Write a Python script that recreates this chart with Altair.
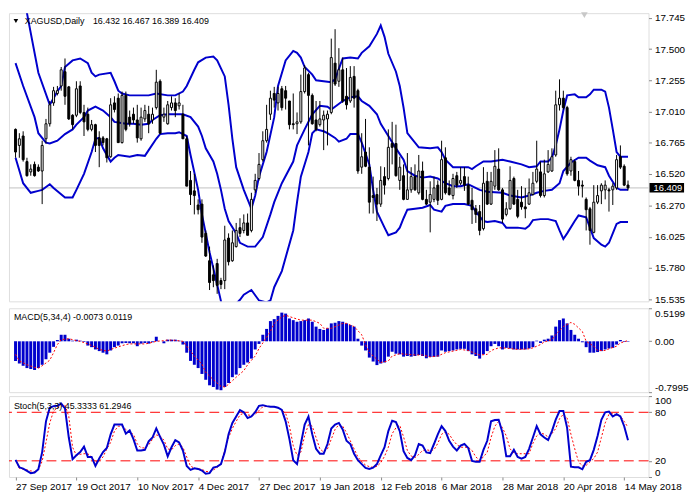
import altair as alt
import pandas as pd

# ------------------------------------------------------------------ data
date_ticks = [0, 16, 32, 48, 64, 80, 96, 112, 128, 144, 160]
date_labels = ["27 Sep 2017", "19 Oct 2017", "10 Nov 2017", "4 Dec 2017", "27 Dec 2017",
               "19 Jan 2018", "12 Feb 2018", "6 Mar 2018", "28 Mar 2018", "20 Apr 2018",
               "14 May 2018"]

opens = [
    16.869, 16.743, 16.817, 16.616, 16.535, 16.594, 16.572, 16.542, 16.795, 16.913,
    17.077, 17.151, 17.210, 17.322, 17.203, 16.980, 16.980, 17.210, 17.002, 16.988,
    16.869, 16.906, 16.802, 16.802, 16.795, 16.654, 17.077, 17.114, 16.765, 17.136,
    16.965, 16.988, 16.943, 16.795, 16.951, 16.988, 16.943, 17.040, 17.247, 16.965,
    16.913, 17.040, 17.077, 17.054, 16.988, 16.795, 16.468, 16.386, 16.275, 16.282,
    16.052, 15.837, 15.726, 15.815, 15.681, 15.681, 16.015, 15.837, 15.948, 16.097,
    16.075, 16.134, 16.075, 16.394, 16.483, 16.631, 16.780, 16.988, 17.151, 17.077,
    17.188, 17.173, 17.092, 16.913, 16.913, 16.928, 17.166, 17.299, 17.136, 16.943,
    16.906, 16.943, 16.951, 17.002, 17.389, 17.247, 17.337, 17.129, 17.092, 17.285,
    17.173, 16.572, 16.691, 16.572, 16.349, 16.357, 16.282, 16.498, 16.483, 16.758,
    16.758, 16.468, 16.505, 16.319, 16.394, 16.498, 16.371, 16.542, 16.319, 16.297,
    16.319, 16.431, 16.319, 16.646, 16.409, 16.349, 16.505, 16.446, 16.498, 16.431,
    16.312, 16.245, 16.223, 16.089, 16.461, 16.282, 16.423, 16.557, 16.394, 16.201,
    16.245, 16.483, 16.319, 16.297, 16.260, 16.282, 16.357, 16.461, 16.535, 16.349,
    16.535, 16.542, 16.668, 17.062, 17.114, 17.040, 16.542, 16.616, 16.468, 16.431,
    16.319, 16.245, 16.060, 16.297, 16.386, 16.394, 16.394, 16.394, 16.409, 16.654,
    16.579, 16.432]
highs = [
    16.876, 16.839, 16.854, 16.646, 16.594, 16.616, 16.594, 16.780, 16.951, 17.092,
    17.203, 17.210, 17.359, 17.426, 17.210, 16.988, 17.247, 17.247, 17.062, 17.040,
    16.943, 16.913, 16.854, 16.817, 16.802, 17.114, 17.129, 17.151, 17.166, 17.166,
    17.017, 17.040, 17.062, 17.040, 17.062, 17.054, 17.040, 17.337, 17.262, 17.040,
    17.092, 17.129, 17.114, 17.151, 17.062, 16.817, 16.542, 16.520, 16.319, 16.319,
    16.075, 15.948, 15.800, 15.852, 15.703, 16.112, 16.052, 16.075, 16.134, 16.171,
    16.201, 16.208, 16.371, 16.520, 16.683, 16.854, 17.062, 17.173, 17.203, 17.203,
    17.210, 17.210, 17.092, 17.151, 17.002, 17.299, 17.374, 17.314, 17.151, 17.092,
    17.092, 17.017, 17.017, 17.582, 17.656, 17.507, 17.433, 17.351, 17.366, 17.366,
    17.188, 16.839, 16.951, 16.728, 16.498, 16.409, 16.579, 16.572, 16.869, 16.928,
    16.906, 16.654, 16.594, 16.683, 16.572, 16.594, 16.668, 16.616, 16.394, 16.461,
    16.498, 16.468, 16.780, 16.728, 16.468, 16.520, 16.535, 16.572, 16.572, 16.498,
    16.409, 16.275, 16.275, 16.572, 16.535, 16.535, 16.706, 16.720, 16.409, 16.297,
    16.579, 16.498, 16.394, 16.423, 16.409, 16.483, 16.535, 16.780, 16.616, 16.631,
    16.706, 16.720, 17.173, 17.262, 17.173, 17.054, 16.654, 16.631, 16.542, 16.468,
    16.334, 16.260, 16.431, 16.431, 16.446, 16.468, 16.409, 16.446, 16.668, 16.743,
    16.594, 16.467]
lows = [
    16.646, 16.646, 16.616, 16.498, 16.505, 16.498, 16.535, 16.282, 16.758, 16.891,
    17.054, 17.136, 17.173, 17.062, 16.943, 16.869, 16.965, 16.988, 16.817, 16.854,
    16.854, 16.691, 16.572, 16.743, 16.609, 16.646, 17.002, 16.765, 16.758, 16.854,
    16.891, 16.913, 16.765, 16.780, 16.928, 16.839, 16.913, 17.025, 16.832, 16.928,
    16.906, 17.017, 16.965, 17.025, 16.795, 16.423, 16.275, 16.201, 16.201, 15.978,
    15.867, 15.607, 15.629, 15.577, 15.614, 15.614, 15.800, 15.829, 15.941, 16.023,
    16.052, 16.037, 16.060, 16.371, 16.468, 16.616, 16.765, 16.943, 17.040, 17.017,
    17.017, 17.025, 16.869, 16.869, 16.832, 16.913, 17.151, 16.743, 16.906, 16.854,
    16.891, 16.706, 16.743, 16.988, 17.210, 17.203, 17.077, 17.025, 17.077, 17.040,
    16.520, 16.520, 16.572, 16.208, 16.208, 16.149, 16.260, 16.357, 16.468, 16.594,
    16.498, 16.394, 16.312, 16.319, 16.371, 16.386, 16.357, 16.312, 16.275, 16.060,
    16.297, 16.275, 16.312, 16.357, 16.349, 16.319, 16.409, 16.431, 16.386, 16.275,
    16.126, 16.134, 16.037, 16.075, 16.275, 16.275, 16.394, 16.386, 16.134, 16.186,
    16.238, 16.275, 16.171, 16.238, 16.171, 16.275, 16.349, 16.446, 16.334, 16.334,
    16.527, 16.535, 16.654, 17.017, 17.025, 16.505, 16.505, 16.461, 16.349, 16.334,
    16.075, 15.963, 16.052, 16.282, 16.282, 16.319, 16.223, 16.275, 16.394, 16.557,
    16.423, 16.389]
closes = [
    16.691, 16.795, 16.631, 16.505, 16.557, 16.505, 16.542, 16.743, 16.913, 17.062,
    17.173, 17.173, 17.337, 17.129, 16.951, 16.906, 17.188, 17.002, 16.928, 16.869,
    16.906, 16.743, 16.743, 16.765, 16.646, 17.062, 17.025, 16.765, 17.136, 16.869,
    16.913, 16.943, 16.802, 16.965, 17.017, 16.913, 16.988, 17.240, 16.839, 16.988,
    17.062, 17.077, 17.017, 17.077, 16.795, 16.423, 16.357, 16.349, 16.238, 16.023,
    15.874, 15.666, 15.681, 15.644, 15.651, 16.000, 15.829, 15.978, 16.075, 16.052,
    16.134, 16.037, 16.319, 16.468, 16.594, 16.780, 16.869, 17.114, 17.099, 17.151,
    17.040, 17.114, 16.906, 16.906, 16.928, 17.166, 17.351, 17.136, 16.913, 16.869,
    16.951, 16.980, 16.988, 17.433, 17.225, 17.337, 17.092, 17.062, 17.277, 17.114,
    16.542, 16.654, 16.579, 16.297, 16.334, 16.282, 16.468, 16.431, 16.728, 16.728,
    16.505, 16.572, 16.319, 16.394, 16.498, 16.394, 16.542, 16.319, 16.282, 16.357,
    16.409, 16.312, 16.631, 16.371, 16.357, 16.483, 16.431, 16.468, 16.431, 16.282,
    16.238, 16.201, 16.075, 16.446, 16.282, 16.461, 16.579, 16.394, 16.164, 16.245,
    16.468, 16.282, 16.186, 16.260, 16.245, 16.371, 16.446, 16.557, 16.349, 16.520,
    16.594, 16.654, 17.062, 17.114, 17.040, 16.520, 16.631, 16.468, 16.423, 16.423,
    16.238, 16.075, 16.297, 16.349, 16.431, 16.431, 16.386, 16.423, 16.631, 16.572,
    16.431, 16.409]

bb_upper = [
    (0, 18.205), (3, 17.782), (6, 17.314), (9, 17.062), (11, 17.166), (12, 17.210), (13, 17.359),
    (15, 17.411), (17, 17.426), (19, 17.389), (20, 17.314), (21, 17.285), (22, 17.299), (25, 17.314),
    (26, 17.247), (27, 17.173), (28, 17.151), (30, 17.136), (35, 17.136), (37, 17.151), (40, 17.136),
    (42, 17.136), (44, 17.166), (45, 17.210), (47, 17.337), (48, 17.396), (50, 17.433), (52, 17.441),
    (53, 17.411), (55, 17.285), (56, 17.062), (57, 16.795), (58, 16.572), (60, 16.394), (62, 16.245),
    (63, 16.349), (64, 16.498), (66, 16.691), (68, 16.965), (69, 17.210), (71, 17.411), (73, 17.485),
    (74, 17.470), (75, 17.433), (76, 17.359), (78, 17.299), (79, 17.255), (81, 17.247), (83, 17.240),
    (84, 17.262), (86, 17.426), (88, 17.433), (90, 17.426), (91, 17.470), (93, 17.522), (95, 17.619),
    (96, 17.685), (97, 17.596), (98, 17.463), (100, 17.322), (101, 17.210), (102, 17.040), (103, 16.839),
    (104, 16.802), (106, 16.728), (109, 16.720), (111, 16.728), (112, 16.691), (113, 16.631), (115, 16.572),
    (119, 16.572), (120, 16.557), (121, 16.579), (123, 16.617), (125, 16.617), (128, 16.631), (130, 16.617),
    (133, 16.594), (135, 16.572), (137, 16.579), (138, 16.617), (140, 16.617), (141, 16.646), (142, 16.743),
    (143, 16.869), (144, 17.017), (145, 17.136), (147, 17.144), (148, 17.121), (150, 17.121), (151, 17.144),
    (152, 17.181), (154, 17.181), (155, 17.166), (156, 17.040), (157, 16.869), (158, 16.691), (159, 16.654),
    (161, 16.654)]
bb_middle = [
    (0, 17.389), (2, 17.210), (5, 16.965), (6, 16.839), (8, 16.765), (9, 16.758), (11, 16.780),
    (13, 16.832), (15, 16.869), (16, 16.906), (18, 16.965), (19, 17.017), (21, 17.047), (23, 17.017),
    (25, 16.965), (26, 16.928), (29, 16.913), (31, 16.913), (33, 16.906), (35, 16.913), (36, 16.943),
    (38, 16.980), (40, 16.988), (42, 16.988), (44, 16.988), (46, 16.965), (48, 16.891), (49, 16.817),
    (50, 16.720), (52, 16.617), (53, 16.520), (54, 16.394), (55, 16.245), (56, 16.149), (58, 16.052),
    (59, 15.978), (61, 15.948), (63, 15.948), (65, 16.023), (67, 16.201), (68, 16.297), (70, 16.446),
    (73, 16.616), (74, 16.743), (76, 16.869), (78, 16.988), (80, 17.054), (82, 17.047), (83, 17.025),
    (86, 17.092), (88, 17.121), (90, 17.129), (91, 17.092), (93, 17.054), (95, 16.988), (96, 16.913),
    (98, 16.817), (100, 16.720), (102, 16.631), (103, 16.542), (105, 16.505), (107, 16.490), (109, 16.498),
    (111, 16.483), (113, 16.446), (115, 16.423), (117, 16.423), (119, 16.438), (120, 16.423), (122, 16.394),
    (124, 16.379), (128, 16.371), (130, 16.349), (133, 16.334), (135, 16.349), (137, 16.371), (139, 16.386),
    (141, 16.394), (143, 16.446), (144, 16.542), (146, 16.609), (148, 16.646), (150, 16.646), (151, 16.624),
    (153, 16.587), (155, 16.572), (156, 16.505), (158, 16.410), (159, 16.394), (161, 16.394)]
bb_lower = [
    (0, 16.646), (2, 16.446), (4, 16.371), (6, 16.386), (7, 16.394), (9, 16.438), (10, 16.408),
    (13, 16.334), (15, 16.334), (16, 16.394), (18, 16.520), (20, 16.691), (21, 16.795), (22, 16.802),
    (23, 16.720), (25, 16.616), (26, 16.646), (27, 16.668), (30, 16.654), (32, 16.668), (34, 16.661),
    (35, 16.706), (37, 16.795), (38, 16.832), (40, 16.839), (42, 16.839), (43, 16.847), (45, 16.817),
    (46, 16.668), (48, 16.394), (49, 16.201), (51, 15.904), (53, 15.651), (54, 15.520), (55, 15.350),
    (56, 15.240), (57, 15.330), (58, 15.500), (59, 15.530), (60, 15.570), (62, 15.607), (64, 15.525),
    (66, 15.510), (67, 15.525), (68, 15.629), (70, 15.756), (73, 16.075), (74, 16.297), (75, 16.498),
    (77, 16.691), (78, 16.839), (79, 16.869), (81, 16.854), (82, 16.839), (84, 16.802), (85, 16.772),
    (87, 16.795), (88, 16.832), (90, 16.832), (91, 16.765), (93, 16.594), (94, 16.394), (95, 16.223),
    (97, 16.097), (98, 16.037), (100, 16.060), (101, 16.097), (102, 16.171), (103, 16.238), (105, 16.245),
    (107, 16.253), (109, 16.275), (110, 16.238), (112, 16.223), (113, 16.268), (115, 16.282), (118, 16.282),
    (120, 16.268), (121, 16.223), (123, 16.149), (124, 16.141), (126, 16.149), (128, 16.134), (129, 16.097),
    (132, 16.097), (134, 16.089), (135, 16.112), (136, 16.156), (138, 16.164), (140, 16.164), (142, 16.149),
    (143, 16.075), (144, 16.008), (145, 16.052), (147, 16.149), (148, 16.193), (150, 16.178), (151, 16.097),
    (152, 16.015), (154, 15.963), (155, 15.948), (156, 15.978), (157, 16.052), (158, 16.126), (159, 16.141),
    (161, 16.141)]

macd_hist = [
    -0.308, -0.349, -0.385, -0.421, -0.436, -0.451, -0.421, -0.369, -0.282, -0.179,
    -0.087, 0.021, 0.103, 0.103, 0.041, 0.010, 0.026, 0.010, -0.010, -0.067,
    -0.092, -0.128, -0.154, -0.179, -0.205, -0.144, -0.092, -0.067, -0.031, -0.026,
    -0.031, -0.031, -0.077, -0.036, -0.026, -0.036, -0.015, 0.072, 0.000, -0.031,
    0.026, 0.026, 0.026, 0.010, -0.051, -0.179, -0.308, -0.369, -0.421, -0.513,
    -0.605, -0.692, -0.718, -0.759, -0.769, -0.718, -0.656, -0.564, -0.523, -0.421,
    -0.369, -0.333, -0.272, -0.128, -0.041, 0.103, 0.195, 0.318, 0.349, 0.400,
    0.451, 0.436, 0.359, 0.333, 0.308, 0.318, 0.333, 0.359, 0.308, 0.231,
    0.195, 0.179, 0.205, 0.282, 0.292, 0.318, 0.308, 0.282, 0.256, 0.231,
    0.041, -0.067, -0.144, -0.256, -0.318, -0.374, -0.349, -0.333, -0.241, -0.164,
    -0.195, -0.205, -0.241, -0.231, -0.241, -0.231, -0.215, -0.231, -0.267, -0.246,
    -0.246, -0.241, -0.144, -0.164, -0.154, -0.144, -0.128, -0.118, -0.118, -0.154,
    -0.205, -0.231, -0.272, -0.205, -0.154, -0.077, -0.041, -0.077, -0.128, -0.103,
    -0.113, -0.128, -0.128, -0.128, -0.128, -0.113, -0.092, 0.010, -0.026, 0.026,
    0.041, 0.092, 0.231, 0.333, 0.359, 0.282, 0.179, 0.103, 0.041, -0.015,
    -0.092, -0.179, -0.179, -0.169, -0.154, -0.128, -0.113, -0.103, -0.051, 0.021,
    -0.010, -0.0073]
macd_signal = [
    (0, -0.205), (1, -0.308), (3, -0.369), (5, -0.410), (6, -0.421), (7, -0.385), (9, -0.297),
    (10, -0.179), (11, -0.051), (12, 0.026), (14, 0.041), (15, 0.026), (16, 0.010), (17, 0.000),
    (19, -0.041), (21, -0.092), (22, -0.128), (24, -0.154), (25, -0.128), (27, -0.087), (29, -0.051),
    (30, -0.041), (32, -0.041), (34, -0.041), (35, -0.031), (37, 0.000), (39, 0.010), (40, 0.021),
    (42, 0.015), (44, 0.000), (45, -0.077), (47, -0.231), (49, -0.359), (50, -0.487), (52, -0.605),
    (54, -0.708), (55, -0.718), (56, -0.677), (58, -0.564), (60, -0.462), (61, -0.369), (63, -0.231),
    (64, -0.113), (65, -0.026), (67, 0.154), (68, 0.282), (70, 0.385), (71, 0.410), (73, 0.369),
    (75, 0.333), (76, 0.333), (78, 0.333), (80, 0.282), (81, 0.205), (83, 0.205), (85, 0.256),
    (86, 0.282), (87, 0.282), (89, 0.231), (91, 0.103), (92, -0.051), (93, -0.179), (95, -0.282),
    (96, -0.333), (98, -0.308), (99, -0.231), (101, -0.195), (103, -0.205), (105, -0.215), (107, -0.215),
    (109, -0.246), (111, -0.231), (113, -0.179), (115, -0.154), (117, -0.128), (119, -0.144), (121, -0.195),
    (122, -0.215), (124, -0.205), (125, -0.144), (127, -0.103), (128, -0.103), (130, -0.113), (132, -0.128),
    (135, -0.118), (136, -0.103), (138, -0.051), (139, -0.010), (141, 0.026), (142, 0.103), (144, 0.231),
    (146, 0.297), (147, 0.267), (149, 0.154), (150, 0.000), (152, -0.077), (153, -0.144), (155, -0.144),
    (156, -0.118), (158, -0.077), (159, -0.026), (161, 0.0119)]

stoch_main = [
    21.2, 12, 10.4, 7.6, 4.8, 5.6, 9.6, 30.8, 68.8, 85.6,
    87.6, 88, 90.8, 84.8, 48.8, 22, 26.8, 30.8, 37.6, 24.8,
    24.8, 13.6, 22.8, 30.8, 36, 52.8, 64.8, 64.8, 64.8, 53.6,
    57.6, 46.8, 32.8, 32.8, 33.6, 44, 48.8, 60, 49.6, 40,
    25.6, 36.8, 45.6, 42.8, 32.8, 13.6, 8.8, 10.8, 10, 8,
    4, 4.8, 11.6, 12.8, 16, 30.8, 52.8, 66.8, 74.8, 82.8,
    80, 72.8, 74.8, 80, 88, 88.8, 87.6, 86.8, 86.8, 85.6,
    82.8, 68.8, 46.8, 20.8, 16, 40.8, 64.8, 74.8, 52.8, 34.8,
    28.8, 28.8, 40.8, 60, 64.8, 66.8, 58.8, 44.8, 40.8, 28.8,
    20.8, 16, 11.2, 10, 11.6, 16, 26.8, 36.8, 56.8, 69.6,
    68, 56.8, 32, 23.6, 20.8, 26.8, 40.8, 38.8, 30.4, 29.6,
    40.8, 52.8, 62.8, 56.8, 44.8, 37.6, 32.8, 38.8, 40.8, 36,
    20, 18.8, 18.8, 33.6, 44.8, 68.8, 70.4, 70.8, 54.8, 25.6,
    25.6, 33.6, 24.8, 22.8, 24.8, 34.8, 48.8, 62.8, 52.8, 48.8,
    45.6, 56.8, 70.8, 81.6, 81.6, 60.8, 12.8, 12, 12, 9.6,
    18.8, 20.8, 33.6, 50.8, 70.8, 80, 80.8, 74.8, 77.6, 74.8,
    62.8, 45.3333]
stoch_signal = [
    20.8, 10.8, 9.6, 8.8, 7.6, 6.8, 8.8, 19.6, 42.8, 66.8,
    81.6, 85.6, 87.6, 88.8, 74.8, 36.8, 26.8, 28, 28.8, 28.8,
    24.8, 18.8, 19.6, 24.8, 34.8, 42.8, 56.8, 62.8, 62.8, 58.8,
    54.8, 52.8, 40.8, 36, 36, 39.6, 46.8, 52, 50.8, 45.6,
    34.8, 33.6, 38.8, 40.8, 36.8, 24.8, 13.6, 10.8, 10, 9.6,
    6.8, 6.8, 8.8, 11.6, 16.8, 32.8, 48.8, 60, 68.8, 76.8,
    78.8, 76.8, 76, 77.6, 82, 86.8, 87.2, 87.2, 86.8, 85.6,
    82.8, 78.8, 62.8, 38.8, 26.8, 30.8, 50.8, 64.8, 62.8, 48.8,
    34.8, 30.8, 34.8, 46.8, 58.8, 64.8, 62.8, 54.8, 44.8, 34.8,
    24.8, 18.8, 14.8, 12.8, 12, 13.2, 17.6, 25.6, 36.8, 53.6,
    60.8, 64, 49.6, 32.8, 26, 24, 28, 32.8, 33.6, 32.8,
    33.6, 41.6, 52.8, 56, 52.8, 45.6, 40, 36.8, 36.8, 36.8,
    32.8, 24.8, 20.8, 24.8, 30.8, 48.8, 62.8, 68.8, 60.8, 50.8,
    34.8, 29.6, 28.8, 28.8, 28.8, 28.8, 41.6, 50.8, 54.8, 52.8,
    49.6, 53.6, 60, 72, 77.6, 72.8, 52.8, 34.8, 18.8, 13.6,
    14.4, 18.8, 22.8, 30.8, 48.8, 66.8, 77.6, 78.4, 76.8, 75.2,
    68.8, 61.2946]

price_ticks = [17.745, 17.500, 17.255, 17.010, 16.765, 16.520, 16.270, 16.025, 15.780, 15.535]
price_domain = [15.518, 17.782]
last_price = 16.409
macd_domain = [-0.7995, 0.5199]
stoch_levels = [80, 20]

header_main = "XAGUSD,Daily"
header_prices = "16.432 16.467 16.389 16.409"
header_macd = "MACD(5,34,4) -0.0073 0.0119"
header_stoch = "Stoch(5,3,3) 45.3333 61.2946"

n = len(opens)
assert len(highs) == n and len(lows) == n and len(closes) == n
assert len(macd_hist) == n and len(stoch_main) == n and len(stoch_signal) == n

# ------------------------------------------------------------------ frames
idx = list(range(n))
candles = pd.DataFrame({"i": idx, "open": opens, "high": highs, "low": lows, "close": closes})
bands = pd.DataFrame(
    [{"i": i, "v": v, "band": name}
     for name, pts in (("upper", bb_upper), ("middle", bb_middle), ("lower", bb_lower))
     for i, v in pts])
macd_df = pd.DataFrame({"i": idx, "h": macd_hist})
macd_sig_df = pd.DataFrame(macd_signal, columns=["i", "s"])
stoch_df = pd.DataFrame({"i": idx, "k": stoch_main, "d": stoch_signal})
levels_df = pd.DataFrame({"lvl": stoch_levels})
one = pd.DataFrame({"a": [0]})

# ------------------------------------------------------------------ styling
W = 648
H_PRICE, H_MACD, H_STOCH = 292, 85, 82
BLUE = "#0000CD"
FONT = "Liberation Sans"
xs = alt.Scale(domain=[-0.425, 165.1], nice=False, zero=False)
X = alt.X("i:Q", scale=xs, axis=None, title=None)

ys_price = alt.Scale(domain=price_domain, nice=False, zero=False)
ax_price = alt.Axis(orient="right", values=price_ticks, format=".3f", tickSize=3,
                    labelPadding=3, title=None, grid=False, domain=False, labelFlush=False)

# ------------------------------------------------------------------ price panel
wicks = alt.Chart(candles).mark_rule(color="black", strokeWidth=1).encode(
    x=X, y=alt.Y("low:Q", scale=ys_price, axis=ax_price, title=None), y2="high:Q")
bodies = alt.Chart(candles).mark_bar(width=2, stroke="black", strokeWidth=1).encode(
    x=X, y=alt.Y("open:Q", scale=ys_price, axis=ax_price, title=None), y2="close:Q",
    fill=alt.condition("datum.close >= datum.open", alt.value("white"), alt.value("black")))
bb_lines = alt.Chart(bands).mark_line(color=BLUE, strokeWidth=2, clip=True).encode(
    x=X, y=alt.Y("v:Q", scale=ys_price, axis=ax_price, title=None), detail="band:N")
cur_line = alt.Chart(one).mark_rule(color="#C0C0C0", strokeWidth=1).encode(
    y=alt.Y(datum=last_price, scale=ys_price, axis=ax_price, title=None))
cur_box = alt.Chart(one).mark_rect(color="black", clip=False).encode(
    x=alt.value(W + 1), x2=alt.value(W + 36),
    y=alt.Y(datum=last_price + 0.038, scale=ys_price, axis=ax_price, title=None),
    y2=alt.Y2(datum=last_price - 0.036))
cur_text = alt.Chart(one).mark_text(color="white", align="left", baseline="middle",
                                    font=FONT, fontSize=9.5, clip=False).encode(
    x=alt.value(W + 5), y=alt.Y(datum=last_price, scale=ys_price, axis=ax_price, title=None),
    text=alt.value(f"{last_price:.3f}"))
hdr_tri = alt.Chart(one).mark_point(shape="triangle-down", filled=True, size=22,
                                    color="black", opacity=1).encode(
    x=alt.value(7), y=alt.value(8))
hdr1 = alt.Chart(one).mark_text(align="left", baseline="middle", font=FONT, fontSize=9,
                                color="black").encode(
    x=alt.value(16), y=alt.value(8), text=alt.value(header_main))
hdr2 = alt.Chart(one).mark_text(align="left", baseline="middle", font=FONT, fontSize=9,
                                color="black").encode(
    x=alt.value(85), y=alt.value(8), text=alt.value(header_prices))
shift_mark = alt.Chart(one).mark_point(shape="triangle-down", filled=True, size=45,
                                       color="#C8C8C8", opacity=1).encode(
    x=alt.value(583), y=alt.value(2))

price = alt.layer(cur_line, bb_lines, wicks, bodies, cur_box, cur_text,
                  hdr_tri, hdr1, hdr2, shift_mark).properties(width=W, height=H_PRICE)

# ------------------------------------------------------------------ MACD panel
ys_macd = alt.Scale(domain=macd_domain, nice=False, zero=False)
ax_macd = alt.Axis(orient="right", values=[0.5199, 0, -0.7995], tickSize=3, labelPadding=3,
                   title=None, grid=False, domain=False, labelFlush=True,
                   labelExpr="datum.value > 0.5 ? '0.5199' : (datum.value < -0.7 ? '-0.7995' : '0.00')")
macd_bars = alt.Chart(macd_df).mark_bar(width=3, color=BLUE).encode(
    x=X, y=alt.Y("h:Q", scale=ys_macd, axis=ax_macd, title=None), y2=alt.Y2(datum=0))
macd_line = alt.Chart(macd_sig_df).mark_line(color="#FF0000", strokeWidth=1,
                                             strokeDash=[2, 2]).encode(
    x=X, y=alt.Y("s:Q", scale=ys_macd, axis=ax_macd, title=None))
macd_hdr = alt.Chart(one).mark_text(align="left", baseline="middle", font=FONT, fontSize=9,
                                    color="black").encode(
    x=alt.value(5), y=alt.value(9), text=alt.value(header_macd))
macd = alt.layer(macd_bars, macd_line, macd_hdr).properties(width=W, height=H_MACD)

# ------------------------------------------------------------------ Stochastic panel
ys_st = alt.Scale(domain=[0, 100], nice=False, zero=False)
ax_st = alt.Axis(orient="right", values=[100, 80, 20, 0], tickSize=3, labelPadding=3,
                 title=None, grid=False, domain=False, labelFlush=True)
label_arr = "[" + ",".join("'%s'" % s for s in date_labels) + "]"
tick_arr = "[" + ",".join(str(t) for t in date_ticks) + "]"
ax_x = alt.Axis(values=date_ticks, labelExpr=f"{label_arr}[indexof({tick_arr}, datum.value)]",
                labelAlign="left", labelPadding=2, tickSize=3, domain=False, grid=False,
                title=None, labelFlush=False, labelOverlap=False, labelBound=False)
XS = alt.X("i:Q", scale=xs, axis=ax_x, title=None)
st_levels = alt.Chart(levels_df).mark_rule(color="#FF0000", strokeWidth=1,
                                           strokeDash=[10, 5]).encode(
    y=alt.Y("lvl:Q", scale=ys_st, axis=ax_st, title=None))
st_sig = alt.Chart(stoch_df).mark_line(color="#FF0000", strokeWidth=1, strokeDash=[2, 2]).encode(
    x=XS, y=alt.Y("d:Q", scale=ys_st, axis=ax_st, title=None))
st_main = alt.Chart(stoch_df).mark_line(color=BLUE, strokeWidth=2).encode(
    x=XS, y=alt.Y("k:Q", scale=ys_st, axis=ax_st, title=None))
st_hdr = alt.Chart(one).mark_text(align="left", baseline="middle", font=FONT, fontSize=9,
                                  color="black").encode(
    x=alt.value(5), y=alt.value(10), text=alt.value(header_stoch))
stoch = alt.layer(st_levels, st_sig, st_main, st_hdr).properties(width=W, height=H_STOCH)

# ------------------------------------------------------------------ assemble
chart = alt.vconcat(price, macd, stoch, spacing=2, padding=0).resolve_scale(
    x="shared", y="independent"
).configure_view(
    stroke="black", strokeWidth=1
).configure_axis(
    labelFont=FONT, labelFontSize=9.5, labelColor="black", tickColor="black"
).configure(background="white")

chart.save("out.html", embed_options={"renderer": "svg", "actions": False})
